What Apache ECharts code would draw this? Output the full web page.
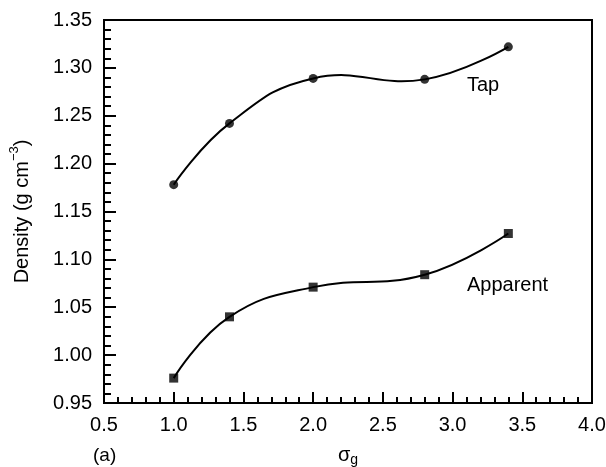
<!DOCTYPE html>
<html>
<head>
<meta charset="utf-8">
<script src="https://cdn.jsdelivr.net/npm/echarts@6/dist/echarts.min.js"></script>
<style>
html,body{margin:0;padding:0;background:#fff;}
#chart{width:606px;height:467px;}
</style>
</head>
<body>
<div id="chart"></div>
<script>
// Data
var sigmaG = [1.0, 1.4, 2.0, 2.8, 3.4];
var tapDensity = [1.178, 1.242, 1.289, 1.288, 1.322];
var apparentDensity = [0.976, 1.040, 1.071, 1.084, 1.127];
var xTicks = [0.5, 1.0, 1.5, 2.0, 2.5, 3.0, 3.5, 4.0];
var yTicks = [0.95, 1.00, 1.05, 1.10, 1.15, 1.20, 1.25, 1.30, 1.35];
var seriesNames = ['Tap', 'Apparent'];

function pairs(xs, ys) { return xs.map(function (x, i) { return [x, ys[i]]; }); }

// smooth curve through the data points, positioned via the chart's own axes (api.coord)
function curveRenderer(xs, ys) {
  return function (params, api) {
    if (params.dataIndex !== 0) return null;
    var pts = xs.map(function (x, i) { return api.coord([x, ys[i]]); });
    return {
      type: 'polyline',
      shape: {points: pts, smooth: 0.45},
      style: {stroke: '#000', lineWidth: 2, fill: null},
      silent: true
    };
  };
}

var FONT = '"Liberation Sans", Arial, Helvetica, sans-serif';
var chart = echarts.init(document.getElementById('chart'), null, {renderer: 'canvas'});
chart.setOption({
  backgroundColor: '#fff',
  animation: false,
  textStyle: {fontFamily: FONT, color: '#000'},
  grid: {left: 104, right: 14, top: 20, bottom: 64, containLabel: false, outerBoundsMode: 'none',
         show: true, borderColor: '#000', borderWidth: 2, backgroundColor: 'transparent'},
  xAxis: {
    type: 'value', min: xTicks[0], max: xTicks[xTicks.length - 1], interval: 0.5,
    axisLine: {show: true, onZero: false, lineStyle: {color: '#000', width: 2}},
    axisTick: {show: true, inside: true, length: 11, lineStyle: {color: '#000', width: 2}},
    minorTick: {show: true, splitNumber: 5, length: 6, lineStyle: {color: '#000', width: 2}},
    splitLine: {show: false},
    axisLabel: {margin: 12, fontSize: 20, color: '#000', fontFamily: FONT, formatter: function (v) { return v.toFixed(1); }},
    name: '{s|σ}{g|g}', nameLocation: 'middle', nameGap: 42,
    nameTextStyle: {lineHeight: 22, rich: {
      s: {fontSize: 20, lineHeight: 22, color: '#000', fontFamily: FONT, verticalAlign: 'top'},
      g: {fontSize: 14, lineHeight: 22, color: '#000', fontFamily: FONT, verticalAlign: 'bottom'}}}
  },
  yAxis: {
    type: 'value', min: yTicks[0], max: yTicks[yTicks.length - 1], interval: 0.05,
    axisLine: {show: true, onZero: false, lineStyle: {color: '#000', width: 2}},
    axisTick: {show: true, inside: true, length: 12, lineStyle: {color: '#000', width: 2}},
    minorTick: {show: true, splitNumber: 5, length: 7, lineStyle: {color: '#000', width: 2}},
    splitLine: {show: false},
    axisLabel: {margin: 12, fontSize: 20, color: '#000', fontFamily: FONT, formatter: function (v) { return v.toFixed(2); }},
    name: '{a|Density (g cm}{b|−3}{a|)}', nameLocation: 'middle', nameGap: 72, nameRotate: 90,
    nameTextStyle: {lineHeight: 24, rich: {
      a: {fontSize: 20, lineHeight: 24, color: '#000', fontFamily: FONT, verticalAlign: 'bottom'},
      b: {fontSize: 13, lineHeight: 24, color: '#000', fontFamily: FONT, verticalAlign: 'top'}}}
  },
  series: [
    {
      name: seriesNames[0] + ' curve', type: 'custom', data: pairs(sigmaG, tapDensity),
      renderItem: curveRenderer(sigmaG, tapDensity), z: 2
    },
    {
      name: seriesNames[1] + ' curve', type: 'custom', data: pairs(sigmaG, apparentDensity),
      renderItem: curveRenderer(sigmaG, apparentDensity), z: 2
    },
    {
      name: seriesNames[0], type: 'scatter', data: pairs(sigmaG, tapDensity),
      symbol: 'circle', symbolSize: 9, itemStyle: {color: '#000'}, z: 5
    },
    {
      name: seriesNames[1], type: 'scatter', data: pairs(sigmaG, apparentDensity),
      symbol: 'rect', symbolSize: 9, itemStyle: {color: '#000'}, z: 5
    }
  ],
  graphic: [
    {type: 'text', left: 467, top: 75, style: {text: seriesNames[0], font: '20px ' + FONT, fill: '#000'}},
    {type: 'text', left: 467, top: 275, style: {text: seriesNames[1], font: '20px ' + FONT, fill: '#000'}},
    {type: 'text', left: 93, top: 446, style: {text: '(a)', font: '19px ' + FONT, fill: '#000'}}
  ]
});
</script>
</body>
</html>
